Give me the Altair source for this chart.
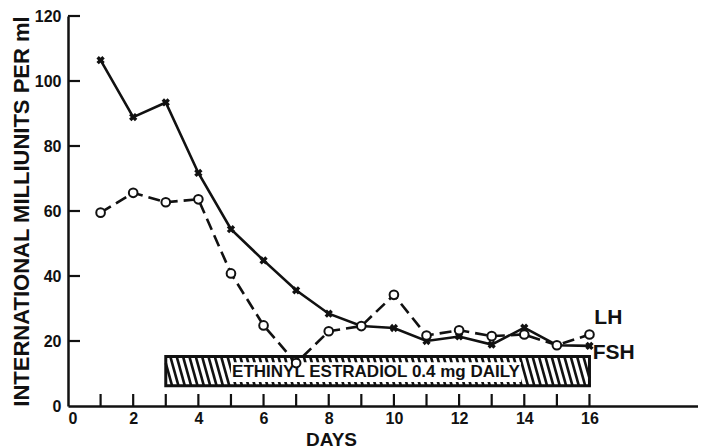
import altair as alt
import numpy as np
import pandas as pd

days = list(range(1, 17))
solid_x = [106.4, 88.9, 93.4, 71.7, 54.4, 44.8, 35.6, 28.4, 24.6, 24.0, 20.0, 21.4, 18.9, 24.1, 18.7, 18.5]
dashed_o = [59.5, 65.6, 62.7, 63.6, 40.8, 24.8, 13.2, 23.0, 24.6, 34.2, 21.7, 23.3, 21.5, 22.0, 18.7, 22.0]

label_text = ["LH", "FSH"]
label_day = [16.15, 16.1]
label_val = [27.2, 16.2]

box_start, box_end = 3.0, 16.0
box_bottom, box_top = 6.2, 15.2
inner_start, inner_end = 5.0, 13.9
inner_bottom, inner_top = 7.4, 13.5
box_label = "ETHINYL ESTRADIOL 0.4 mg DAILY"

x_ticks = list(range(0, 17))
y_ticks = [0, 20, 40, 60, 80, 100, 120]

FONT = "Liberation Sans"
BLACK = "#111111"

# hatch lines derived from the box extent
step, slant = 0.195, 0.25
rows = []
for x0 in np.arange(box_start - slant, box_end, step):
    t0 = max(0.0, (box_start - x0) / slant)
    t1 = min(1.0, (box_end - x0) / slant)
    if t1 <= t0:
        continue
    rows.append({
        "x1": x0 + slant * t0, "x2": x0 + slant * t1,
        "y1": box_top - (box_top - box_bottom) * t0,
        "y2": box_top - (box_top - box_bottom) * t1,
    })
hatch = pd.DataFrame(rows)

xs = alt.Scale(domain=[0, 19.33], nice=False, zero=False)
ys = alt.Scale(domain=[0, 120], nice=False)

df = pd.DataFrame({"day": days, "solid": solid_x, "dashed": dashed_o})
base = alt.Chart(df)

x_axis = alt.Axis(values=x_ticks, labelExpr="datum.value % 2 == 0 ? datum.label : ''",
                  ticks=False, grid=False, domainColor=BLACK, domainWidth=2.5,
                  labelFont=FONT, labelFontSize=16, labelFontWeight="bold", labelColor=BLACK,
                  labelPadding=4, title="DAYS", titleFont=FONT, titleFontSize=19,
                  titleFontWeight="bold", titleColor=BLACK, titleX=263, titleY=33,
                  titleAlign="center", titleBaseline="middle")
y_axis = alt.Axis(values=y_ticks, ticks=False, grid=False, domainColor=BLACK, domainWidth=2.5,
                  labelFont=FONT, labelFontSize=16, labelFontWeight="bold", labelColor=BLACK,
                  labelPadding=7, title="INTERNATIONAL MILLIUNITS PER ml", titleFont=FONT,
                  titleFontSize=22, titleFontWeight="bold", titleColor=BLACK, titleAngle=-90,
                  titleX=-47, titleY=195, titleAlign="center", titleBaseline="middle")

hatch_layer = alt.Chart(hatch).mark_rule(color=BLACK, strokeWidth=2.6).encode(
    x=alt.X("x1:Q", scale=xs, axis=x_axis), x2="x2:Q",
    y=alt.Y("y1:Q", scale=ys, axis=y_axis), y2="y2:Q")

box_df = pd.DataFrame({"a": [box_start], "b": [box_end], "lo": [box_bottom], "hi": [box_top]})
inner_df = pd.DataFrame({"a": [inner_start], "b": [inner_end], "lo": [inner_bottom], "hi": [inner_top]})

inner = alt.Chart(inner_df).mark_rect(fill="white").encode(
    x=alt.X("a:Q", scale=xs), x2="b:Q", y=alt.Y("lo:Q", scale=ys), y2="hi:Q")
border = alt.Chart(box_df).mark_rect(fill=None, stroke=BLACK, strokeWidth=3).encode(
    x=alt.X("a:Q", scale=xs), x2="b:Q", y=alt.Y("lo:Q", scale=ys), y2="hi:Q")
box_text = alt.Chart(pd.DataFrame({"t": [box_label], "x": [(inner_start + inner_end) / 2],
                                   "y": [(inner_bottom + inner_top) / 2]})).mark_text(
    font=FONT, fontSize=17, fontWeight="bold", color=BLACK, align="center", baseline="middle").encode(
    x=alt.X("x:Q", scale=xs), y=alt.Y("y:Q", scale=ys), text="t:N")

solid_line = base.mark_line(color=BLACK, strokeWidth=2.6).encode(
    x=alt.X("day:Q", scale=xs), y=alt.Y("solid:Q", scale=ys))
dashed_line = base.mark_line(color=BLACK, strokeWidth=2.6, strokeDash=[12, 6]).encode(
    x=alt.X("day:Q", scale=xs), y=alt.Y("dashed:Q", scale=ys))
x_marks = base.mark_point(shape="cross", angle=45, filled=True, color=BLACK, size=70, opacity=1).encode(
    x=alt.X("day:Q", scale=xs), y=alt.Y("solid:Q", scale=ys))
o_marks = base.mark_point(shape="circle", filled=True, fill="white", stroke=BLACK, strokeWidth=2,
                          size=75, opacity=1).encode(
    x=alt.X("day:Q", scale=xs), y=alt.Y("dashed:Q", scale=ys))

labels = alt.Chart(pd.DataFrame({"t": label_text, "x": label_day, "y": label_val})).mark_text(
    font=FONT, fontSize=21, fontWeight="bold", color=BLACK, align="left", baseline="middle").encode(
    x=alt.X("x:Q", scale=xs), y=alt.Y("y:Q", scale=ys), text="t:N")

xt = alt.Chart(pd.DataFrame({"d": x_ticks[1:], "z": [0] * 16})).mark_tick(
    orient="vertical", size=12, thickness=2.2, color=BLACK, yOffset=-6, opacity=1).encode(
    x=alt.X("d:Q", scale=xs), y=alt.Y("z:Q", scale=ys))
yt = alt.Chart(pd.DataFrame({"v": y_ticks[1:], "z": [0] * 6})).mark_tick(
    orient="horizontal", size=12, thickness=2.2, color=BLACK, xOffset=6, opacity=1).encode(
    x=alt.X("z:Q", scale=xs), y=alt.Y("v:Q", scale=ys))

chart = alt.layer(hatch_layer, inner, border, box_text, solid_line, dashed_line,
                  x_marks, o_marks, labels, xt, yt).properties(
    width=630, height=390,
    autosize=alt.AutoSizeParams(type="none"),
    padding={"left": 60, "top": 8, "right": 0, "bottom": 42},
    background="white",
).configure_view(stroke=None)

chart.save("out.html", embed_options={"renderer": "svg", "actions": False})
